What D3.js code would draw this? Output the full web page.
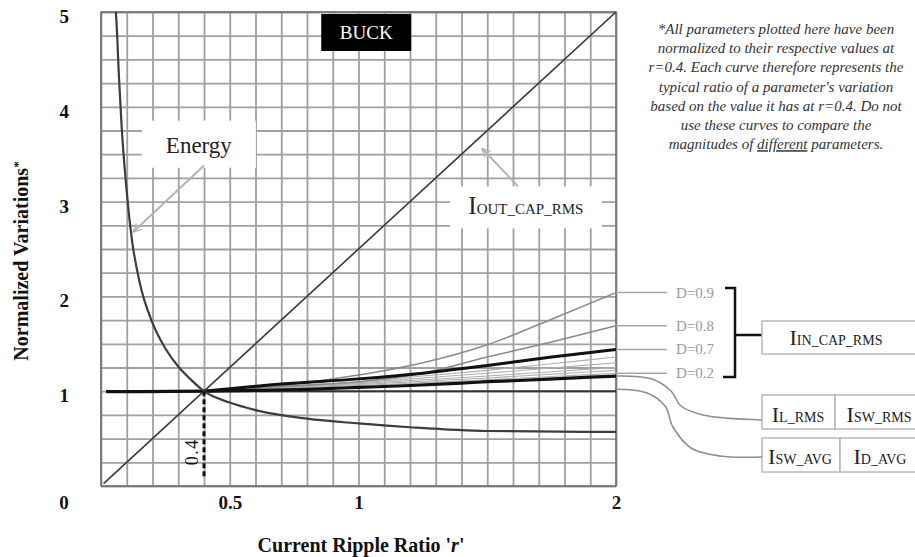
<!DOCTYPE html>
<html lang="en">
<head>
<meta charset="UTF-8">
<title>Buck - Normalized Variations</title>
<style>
    body { margin: 0; background: #fff; }
    svg { display: block; }
    text { font-family: "Liberation Serif", "DejaVu Serif", serif; }
</style>
</head>
<body>
<svg></svg>
<script src="https://d3js.org/d3.v7.min.js"></script>
<script>
// values (r = current ripple ratio, normalized at r=0.4)
const energyR = [0.055, 0.06, 0.07, 0.08, 0.1, 0.12, 0.15, 0.2, 0.25, 0.3, 0.35, 0.4, 0.5, 0.6, 0.8, 1.0, 1.2, 1.5, 2.0];
const energyVals = [5.1, 4.9, 4.3, 3.8, 3.1, 2.6, 2.15, 1.72, 1.45, 1.26, 1.12, 1.0, 0.88, 0.80, 0.71, 0.66, 0.62, 0.58, 0.57];

const outCapR = [0.01, 0.4, 2.0];
const outCapVals = [0.025, 1.0, 5.0];

const swAvgR = [0.02, 2.0];
const swAvgVals = [1.0, 1.0];

const ilRmsR = [0.02, 0.4, 0.6, 0.8, 1.0, 1.2, 1.4, 1.5, 1.6, 1.8, 2.0];
const ilRmsVals = [0.995, 1.0, 1.008, 1.02, 1.04, 1.06, 1.085, 1.10, 1.11, 1.135, 1.16];

const inCapR = [0.4, 0.7, 1.0, 1.25, 1.5, 1.75, 2.0];
const inCapD = ["0.9", "0.8", "0.7", "0.6", "0.5", "0.4", "0.3", "0.2"];
const inCapVals = [
    [1.0, 1.06, 1.17, 1.30, 1.49, 1.76, 2.04],
    [1.0, 1.05, 1.10, 1.19, 1.36, 1.52, 1.69],
    [1.0, 1.075, 1.13, 1.19, 1.27, 1.36, 1.44],
    [1.0, 1.05, 1.10, 1.16, 1.22, 1.29, 1.36],
    [1.0, 1.045, 1.09, 1.14, 1.19, 1.245, 1.30],
    [1.0, 1.04, 1.08, 1.12, 1.16, 1.205, 1.25],
    [1.0, 1.035, 1.07, 1.105, 1.14, 1.18, 1.22],
    [1.0, 1.03, 1.06, 1.09, 1.12, 1.155, 1.19]
];
const labelledD = ["0.9", "0.8", "0.7", "0.2"];

const xTickLabels = [0.5, 1, 2];
const yTickLabels = [1, 2, 3, 4, 5];
const xGridTicks = d3.range(0, 2.001, 0.1);
const yGridTicks = d3.range(0, 5.001, 0.25);

const noteLines = [
    "*All parameters plotted here have been",
    "normalized to their respective values at",
    "r=0.4. Each curve therefore represents the",
    "typical ratio of a parameter's variation",
    "based on the value it has at r=0.4. Do not",
    "use these curves to compare the"
];

const width = 915;
const height = 557;

const x = d3.scaleLinear().domain([0, 2]).range([101, 616]);
const y = d3.scaleLinear().domain([0, 5]).range([486, 12]);

const svg = d3.select("svg")
    .attr("width", width)
    .attr("height", height);

const defs = svg.append("defs");
defs.append("clipPath").attr("id", "plot-clip")
    .append("rect")
    .attr("x", x(0)).attr("y", y(5))
    .attr("width", x(2) - x(0)).attr("height", y(0) - y(5));

defs.append("marker")
    .attr("id", "arrow")
    .attr("viewBox", "0 0 10 10")
    .attr("refX", 9).attr("refY", 5)
    .attr("markerWidth", 5).attr("markerHeight", 5)
    .attr("markerUnits", "strokeWidth")
    .attr("orient", "auto")
    .append("path")
    .attr("d", "M1,1 L9,5 L1,9")
    .attr("fill", "none")
    .attr("stroke", "#b3b3b3")
    .attr("stroke-width", 1.4);

// grid
svg.append("g")
    .attr("transform", `translate(0,${y(0)})`)
    .call(d3.axisBottom(x).tickValues(xGridTicks).tickSize(-(y(0) - y(5))).tickFormat(""))
    .call(g => g.select(".domain").remove())
    .selectAll("line")
    .attr("stroke", "#a0a0a0")
    .attr("stroke-width", 1.8);

svg.append("g")
    .attr("transform", `translate(${x(0)},0)`)
    .call(d3.axisLeft(y).tickValues(yGridTicks).tickSize(-(x(2) - x(0))).tickFormat(""))
    .call(g => g.select(".domain").remove())
    .selectAll("line")
    .attr("stroke", "#a0a0a0")
    .attr("stroke-width", 1.8);

// white patches behind the in-plot labels
const energyPos = [x(0.38), y(3.6)];
const outCapPos = [x(1.65), y(2.95)];
svg.append("rect")
    .attr("x", energyPos[0] - 57).attr("y", energyPos[1] - 24)
    .attr("width", 114).attr("height", 47)
    .attr("fill", "#fff");
svg.append("rect")
    .attr("x", outCapPos[0] - 76).attr("y", outCapPos[1] - 20)
    .attr("width", 152).attr("height", 42)
    .attr("fill", "#fff");

// plot border
svg.append("rect")
    .attr("x", x(0)).attr("y", y(5))
    .attr("width", x(2) - x(0)).attr("height", y(0) - y(5))
    .attr("fill", "none")
    .attr("stroke", "#6e6e6e")
    .attr("stroke-width", 1.6);

const line = d3.line()
    .x(d => x(d[0]))
    .y(d => y(d[1]))
    .curve(d3.curveMonotoneX);

const curves = svg.append("g").attr("clip-path", "url(#plot-clip)");

const zipped = (rs, vs) => rs.map((r, i) => [r, vs[i]]);

// light IN_CAP_RMS curves first, highlighted ones on top
const inCapStyle = d => {
    if (d === "0.7") return { stroke: "#111", width: 3 };
    if (d === "0.9" || d === "0.8") return { stroke: "#8a8a8a", width: 1.6 };
    return { stroke: "#b0b0b0", width: 1.1 };
};
const inCapOrder = ["0.6", "0.5", "0.4", "0.3", "0.2", "0.9", "0.8", "0.7"];

curves.append("path")
    .datum(zipped(swAvgR, swAvgVals))
    .attr("d", line)
    .attr("fill", "none")
    .attr("stroke", "#333")
    .attr("stroke-width", 2);

inCapOrder.forEach(d => {
    const i = inCapD.indexOf(d);
    const s = inCapStyle(d);
    curves.append("path")
        .datum(zipped(inCapR, inCapVals[i]))
        .attr("d", line)
        .attr("fill", "none")
        .attr("stroke", s.stroke)
        .attr("stroke-width", s.width);
});

curves.append("path")
    .datum(zipped(ilRmsR, ilRmsVals))
    .attr("d", line)
    .attr("fill", "none")
    .attr("stroke", "#111")
    .attr("stroke-width", 3.2);

curves.append("path")
    .datum(zipped(outCapR, outCapVals))
    .attr("d", d3.line().x(d => x(d[0])).y(d => y(d[1])))
    .attr("fill", "none")
    .attr("stroke", "#3a3a3a")
    .attr("stroke-width", 1.6);

curves.append("path")
    .datum(zipped(energyR, energyVals))
    .attr("d", line)
    .attr("fill", "none")
    .attr("stroke", "#3d3d3d")
    .attr("stroke-width", 2.2);

// dotted marker at r = 0.4
svg.append("line")
    .attr("x1", x(0.4)).attr("x2", x(0.4))
    .attr("y1", y(1)).attr("y2", y(0.09))
    .attr("stroke", "#111")
    .attr("stroke-width", 3)
    .attr("stroke-dasharray", "5,3");
svg.append("text")
    .attr("transform", `translate(${x(0.4) - 6},${y(0.36)}) rotate(-90)`)
    .attr("text-anchor", "middle")
    .attr("font-size", 18)
    .attr("letter-spacing", 1.5)
    .attr("fill", "#111")
    .text("0.4");

// axes labels
svg.append("g")
    .attr("transform", `translate(0,${y(0)})`)
    .call(d3.axisBottom(x).tickValues(xTickLabels).tickSize(0).tickPadding(10).tickFormat(d3.format("")))
    .call(g => g.select(".domain").remove())
    .selectAll("text")
    .attr("font-family", "Liberation Serif")
    .attr("font-weight", "bold")
    .attr("font-size", 19)
    .attr("fill", "#111");

svg.append("g")
    .attr("transform", `translate(${x(0)},0)`)
    .call(d3.axisLeft(y).tickValues(yTickLabels).tickSize(0).tickPadding(32).tickFormat(d3.format("d")))
    .call(g => g.select(".domain").remove())
    .selectAll("text")
    .attr("font-family", "Liberation Serif")
    .attr("font-weight", "bold")
    .attr("font-size", 19)
    .attr("dy", "0.55em")
    .attr("fill", "#111");

svg.append("text")
    .attr("x", 64).attr("y", y(0) + 23)
    .attr("text-anchor", "middle")
    .attr("font-weight", "bold")
    .attr("font-size", 19)
    .attr("fill", "#111")
    .text("0");

const yTitle = svg.append("text")
    .attr("transform", "translate(28,261) rotate(-90)")
    .attr("text-anchor", "middle")
    .attr("font-weight", "bold")
    .attr("font-size", 20)
    .attr("fill", "#111");
yTitle.append("tspan").text("Normalized Variations");
yTitle.append("tspan").attr("font-size", 13).attr("dy", -6).text("*");

const xTitle = svg.append("text")
    .attr("x", 361).attr("y", 552)
    .attr("text-anchor", "middle")
    .attr("font-weight", "bold")
    .attr("font-size", 20)
    .attr("fill", "#111");
xTitle.append("tspan").text("Current Ripple Ratio '");
xTitle.append("tspan").attr("font-style", "italic").text("r");
xTitle.append("tspan").text("'");

// BUCK tag
svg.append("rect")
    .attr("x", x(1.03) - 45).attr("y", 14)
    .attr("width", 90).attr("height", 37)
    .attr("fill", "#000");
svg.append("text")
    .attr("x", x(1.03)).attr("y", 39)
    .attr("text-anchor", "middle")
    .attr("font-size", 19)
    .attr("fill", "#fff")
    .text("BUCK");

// label with a big I and small-caps subscript on the same baseline
const iLabel = (cx, baseline, sub, big, small) => {
    const t = svg.append("text")
        .attr("x", cx).attr("y", baseline)
        .attr("text-anchor", "middle")
        .attr("fill", "#222");
    t.append("tspan").attr("font-size", big).text("I");
    t.append("tspan").attr("font-size", small).text(sub);
};

svg.append("text")
    .attr("x", energyPos[0]).attr("y", energyPos[1] + 8)
    .attr("text-anchor", "middle")
    .attr("font-size", 23)
    .attr("fill", "#222")
    .text("Energy");
svg.append("line")
    .attr("x1", x(0.4)).attr("y1", y(3.38))
    .attr("x2", x(0.125)).attr("y2", y(2.68))
    .attr("stroke", "#b3b3b3")
    .attr("stroke-width", 2)
    .attr("marker-end", "url(#arrow)");

iLabel(outCapPos[0], outCapPos[1] + 8, "OUT_CAP_RMS", 25, 15);
svg.append("line")
    .attr("x1", x(1.62)).attr("y1", y(3.16))
    .attr("x2", x(1.48)).attr("y2", y(3.56))
    .attr("stroke", "#b3b3b3")
    .attr("stroke-width", 2)
    .attr("marker-end", "url(#arrow)");

// D labels for the input-capacitor curves
labelledD.forEach(d => {
    const vals = inCapVals[inCapD.indexOf(d)];
    const ly = y(vals[vals.length - 1]);
    svg.append("line")
        .attr("x1", x(2)).attr("x2", 667)
        .attr("y1", ly).attr("y2", ly)
        .attr("stroke", "#a8a8a8")
        .attr("stroke-width", 1.5);
    svg.append("text")
        .attr("x", 676).attr("y", ly + 5)
        .attr("font-size", 15)
        .attr("fill", "#9a9a9a")
        .text("D=" + d);
});

// bracket and IN_CAP_RMS box
svg.append("path")
    .attr("d", "M725,288 H735 V377 H723 M735,335 H762")
    .attr("fill", "none")
    .attr("stroke", "#111")
    .attr("stroke-width", 2.5);

const boxStroke = "#b8b8b8";
const box = (bx, by, bw, bh) => svg.append("rect")
    .attr("x", bx).attr("y", by).attr("width", bw).attr("height", bh)
    .attr("fill", "#fff").attr("stroke", boxStroke).attr("stroke-width", 1.5);

box(762, 321, 170, 33);
iLabel(836, 345, "IN_CAP_RMS", 22, 14);

box(762, 395, 73, 34);
box(835, 395, 97, 34);
iLabel(798, 422, "L_RMS", 22, 14);
iLabel(879, 422, "SW_RMS", 22, 14);

box(762, 438, 78, 34);
box(840, 438, 92, 34);
iLabel(800, 464, "SW_AVG", 22, 14);
iLabel(880, 464, "D_AVG", 22, 14);

// connectors from curve ends to the boxes
const connector = d3.line().curve(d3.curveCatmullRom);
svg.append("path")
    .attr("d", connector([[x(2), y(ilRmsVals[ilRmsVals.length - 1])], [652, 379], [671, 391], [681, 406], [703, 415], [762, 420]]))
    .attr("fill", "none")
    .attr("stroke", "#8f8f8f")
    .attr("stroke-width", 1.6);
svg.append("path")
    .attr("d", connector([[x(2), y(1.02)], [647, 393], [665, 406], [673, 427], [691, 448], [720, 456], [762, 457]]))
    .attr("fill", "none")
    .attr("stroke", "#8f8f8f")
    .attr("stroke-width", 1.6);

// footnote
const note = svg.append("g")
    .attr("font-style", "italic")
    .attr("font-size", 15)
    .attr("fill", "#333")
    .attr("text-anchor", "middle");
noteLines.forEach((t, i) => {
    note.append("text")
        .attr("x", 776).attr("y", 34 + i * 19.2)
        .text(t);
});
const last = note.append("text")
    .attr("x", 776).attr("y", 34 + 6 * 19.2);
last.append("tspan").text("magnitudes of ");
last.append("tspan").attr("text-decoration", "underline").text("different");
last.append("tspan").text(" parameters.");
</script>
</body>
</html>
